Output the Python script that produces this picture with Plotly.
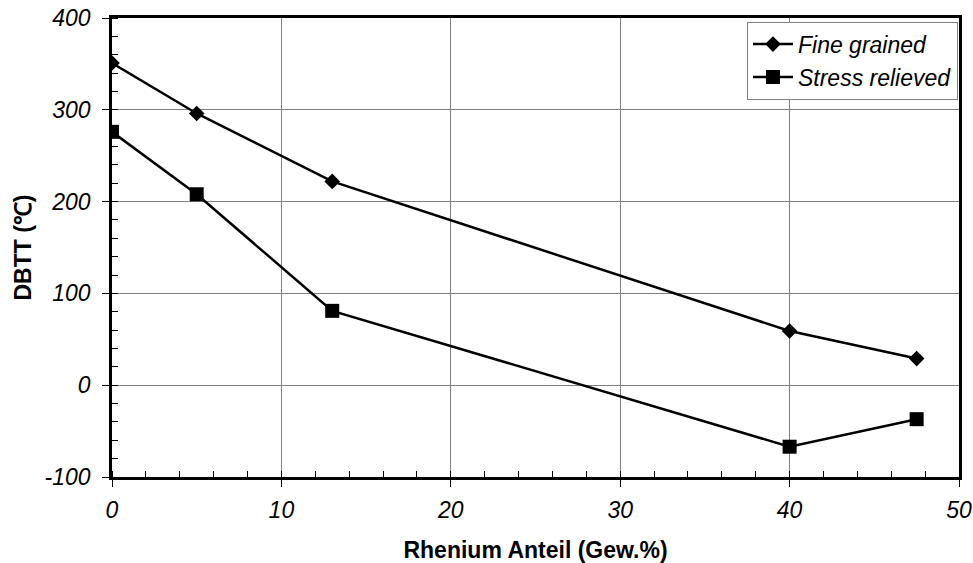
import plotly.graph_objects as go

rhenium = [0, 5, 13, 40, 47.5]
fine_grained = [351, 296, 222, 59, 29]
stress_relieved = [276, 208, 81, -67, -37]
x_ticks = [0, 10, 20, 30, 40, 50]
y_ticks = [-100, 0, 100, 200, 300, 400]
y_tick_labels = ["-100", "0", "100", "200", "300", "400"]

FONT = "Liberation Sans, Arial, sans-serif"

fig = go.Figure()
fig.add_trace(go.Scatter(
    x=rhenium, y=fine_grained, mode="lines+markers", name="Fine grained",
    line=dict(color="black", width=2.5),
    marker=dict(symbol="diamond", size=12, color="black"),
))
fig.add_trace(go.Scatter(
    x=rhenium, y=stress_relieved, mode="lines+markers", name="Stress relieved",
    line=dict(color="black", width=2.5),
    marker=dict(symbol="square", size=14, color="black"),
))

axis_common = dict(
    showline=True, linecolor="black", linewidth=2.5, mirror=True,
    showgrid=True, gridcolor="#808080", gridwidth=1,
    zeroline=False, automargin=False,
    ticks="outside", ticklen=7, tickwidth=1, tickcolor="black",
    tickfont=dict(family=FONT, size=23, color="black", style="italic"),
)

fig.update_layout(
    width=973, height=563,
    margin=dict(l=112, r=14, t=18, b=86),
    paper_bgcolor="white", plot_bgcolor="white",
    showlegend=True,
    legend=dict(
        x=0.9988, xanchor="right", y=0.992, yanchor="top",
        bordercolor="#808080", borderwidth=1, bgcolor="white",
        font=dict(family=FONT, size=23, color="black", style="italic"),
        itemwidth=40, tracegroupgap=0,
    ),
    xaxis=dict(
        range=[0, 50], tickvals=x_ticks,
        minor=dict(dtick=2, ticks="inside", ticklen=6, tickcolor="black", showgrid=False),
        ticklabelstandoff=4,
        title=dict(text="<b>Rhenium Anteil (Gew.%)</b>", font=dict(family=FONT, size=23, color="black"), standoff=20),
        **axis_common,
    ),
    yaxis=dict(
        range=[-100, 400], tickvals=y_ticks, ticktext=y_tick_labels,
        minor=dict(dtick=20, ticks="inside", ticklen=6, tickcolor="black", showgrid=False),
        ticklabelstandoff=7,
        title=dict(text="<b>DBTT (℃)</b>", font=dict(family=FONT, size=23, color="black"), standoff=7),
        **axis_common,
    ),
)

fig.write_html("out.html")
